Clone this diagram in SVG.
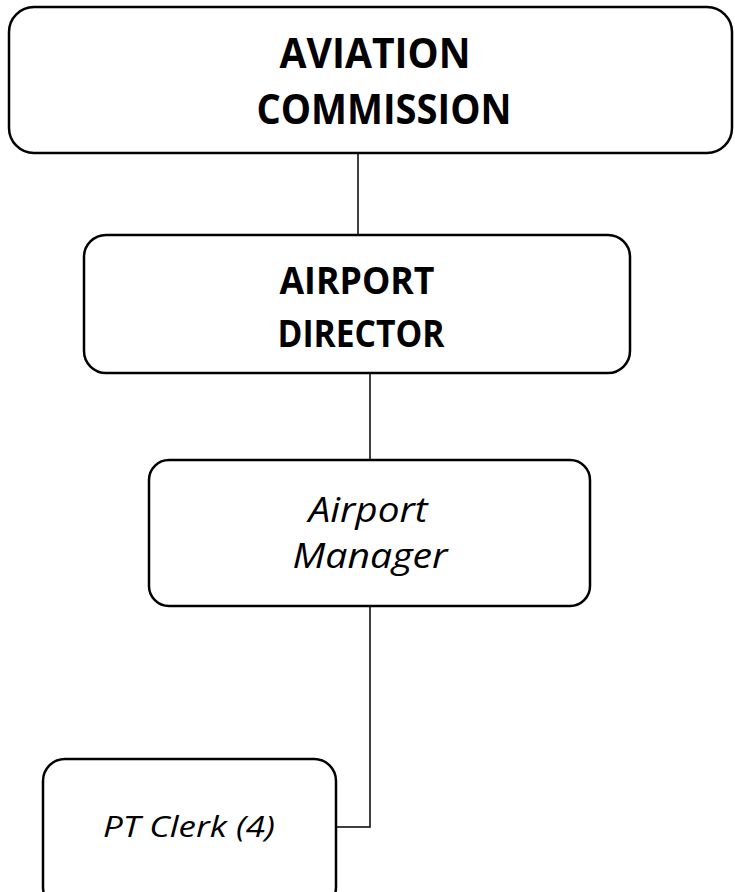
<svg xmlns="http://www.w3.org/2000/svg" width="735" height="892" viewBox="0 0 735 892">
  <style>
    .box { fill: #ffffff; stroke: #000000; stroke-width: 2.5; }
    .link { fill: none; stroke: #000000; stroke-width: 1.5; }
    .title { font-family: "Open Sans", "Liberation Sans", sans-serif; font-weight: bold; fill: #000000; text-anchor: middle; }
    .role { font-family: "Open Sans", "Liberation Sans", sans-serif; font-style: italic; fill: #000000; text-anchor: middle; }
  </style>
  <rect width="735" height="892" fill="#ffffff"/>

  <g id="connectors">
    <line class="link" x1="358" y1="153" x2="358" y2="235"/>
    <line class="link" x1="370" y1="373" x2="370" y2="460"/>
    <polyline class="link" points="370,606 370,827 336,827"/>
  </g>

  <g id="aviation-commission">
    <rect class="box" x="9" y="7" width="723" height="146" rx="25"/>
    <text class="title" x="375" y="68" font-size="42" textLength="191" lengthAdjust="spacingAndGlyphs">AVIATION</text>
    <text class="title" x="384" y="124" font-size="42" textLength="255" lengthAdjust="spacingAndGlyphs">COMMISSION</text>
  </g>

  <g id="airport-director">
    <rect class="box" x="84" y="235" width="546" height="138" rx="22"/>
    <text class="title" x="357" y="294" font-size="38" textLength="155" lengthAdjust="spacingAndGlyphs">AIRPORT</text>
    <text class="title" x="361" y="347" font-size="38" textLength="167" lengthAdjust="spacingAndGlyphs">DIRECTOR</text>
  </g>

  <g id="airport-manager">
    <rect class="box" x="149" y="460" width="441" height="146" rx="20"/>
    <text class="role" x="368" y="522" font-size="35" textLength="119" lengthAdjust="spacingAndGlyphs">Airport</text>
    <text class="role" x="370" y="568" font-size="35" textLength="155" lengthAdjust="spacingAndGlyphs">Manager</text>
  </g>

  <g id="pt-clerk">
    <rect class="box" x="43" y="759" width="293" height="150" rx="22"/>
    <text class="role" x="189" y="837" font-size="29" textLength="172" lengthAdjust="spacingAndGlyphs">PT Clerk (4)</text>
  </g>
</svg>
